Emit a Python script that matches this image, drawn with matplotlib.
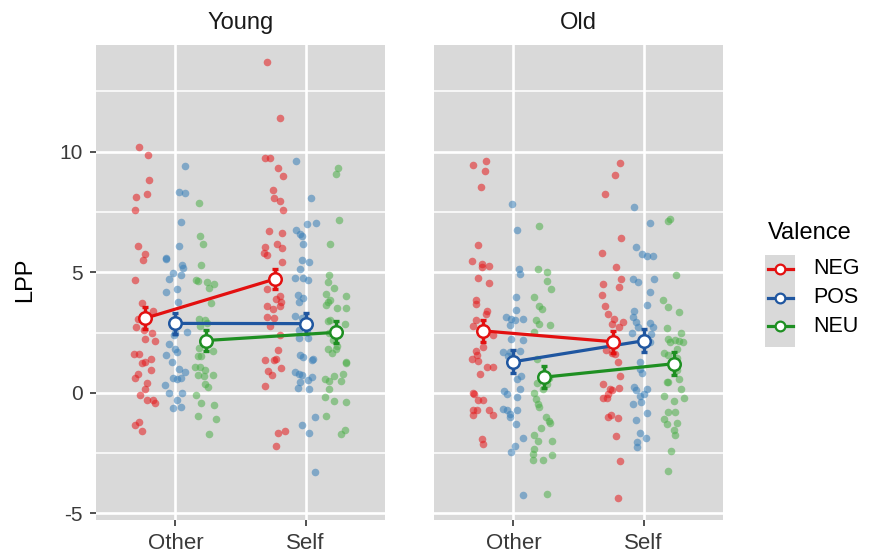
import numpy as np
import matplotlib.pyplot as plt
from matplotlib.lines import Line2D
from matplotlib.patches import Rectangle

plt.rcParams['font.family'] = ['Liberation Sans', 'DejaVu Sans']

ages = ['Young', 'Old']
conditions = ['Other', 'Self']
valences = ['NEG', 'POS', 'NEU']
y_ticks = [-5, 0, 5, 10]
y_tick_labels = ['-5', '0', '5', '10']
y_minor = [-2.5, 2.5, 7.5, 12.5]

# single subject points: (x on category axis incl. dodge + jitter, LPP)
young_other_neg = [(0.72, 10.19), (0.79, 9.88), (0.80, 8.81), (0.70, 8.12), (0.78, 8.26), (0.69, 7.56),
                   (0.71, 6.10), (0.77, 5.75), (0.75, 5.52), (0.69, 4.67), (0.74, 3.73), (0.71, 3.07),
                   (0.83, 3.38), (0.70, 2.71), (0.76, 2.60), (0.82, 2.49), (0.77, 2.24), (0.84, 2.15),
                   (0.68, 1.60), (0.72, 1.63), (0.81, 1.41), (0.74, 1.24), (0.77, 1.27), (0.81, 0.94),
                   (0.71, 0.80), (0.69, 0.62), (0.78, 0.39), (0.77, 0.14), (0.73, -0.07), (0.78, -0.30),
                   (0.83, -0.30), (0.84, -0.44), (0.72, -1.19), (0.69, -1.35), (0.74, -1.57)]
young_other_pos = [(1.07, 9.39), (1.03, 8.34), (1.07, 8.29), (1.04, 7.10), (1.03, 6.08), (0.93, 5.61),
                   (0.93, 5.55), (1.05, 5.30), (1.06, 5.17), (1.04, 4.89), (0.98, 4.97), (0.95, 4.72),
                   (1.01, 4.31), (0.93, 4.20), (1.02, 3.78), (1.09, 2.51), (0.99, 2.38), (1.00, 2.49),
                   (0.95, 2.02), (1.00, 1.80), (1.01, 1.69), (0.93, 1.55), (0.97, 1.27), (1.03, 0.97),
                   (1.07, 0.86), (0.98, 0.62), (1.04, 0.62), (1.01, 0.58), (0.92, 0.33), (0.95, 0.00),
                   (1.05, 0.00), (1.01, -0.28), (1.04, -0.58), (0.98, -0.64)]
young_other_neu = [(1.18, 7.85), (1.19, 6.49), (1.21, 6.16), (1.20, 5.28), (1.16, 4.67), (1.17, 4.63),
                   (1.24, 4.59), (1.30, 4.53), (1.26, 4.36), (1.27, 3.73), (1.18, 3.07), (1.23, 3.01),
                   (1.24, 2.90), (1.19, 2.76), (1.18, 1.86), (1.29, 1.73), (1.17, 1.52), (1.20, 1.52),
                   (1.15, 1.08), (1.19, 1.08), (1.23, 0.94), (1.29, 0.76), (1.17, 0.76), (1.22, 0.69),
                   (1.23, 0.36), (1.25, 0.25), (1.16, -0.07), (1.20, -0.44), (1.30, -0.52), (1.17, -0.94),
                   (1.31, -1.08), (1.26, -1.69)]
young_self_neg = [(1.70, 13.73), (1.80, 11.41), (1.69, 9.72), (1.73, 9.75), (1.79, 9.31), (1.83, 8.98),
                  (1.75, 8.40), (1.76, 8.07), (1.80, 7.96), (1.83, 7.57), (1.72, 6.69), (1.82, 6.63),
                  (1.69, 6.05), (1.78, 6.19), (1.82, 6.02), (1.68, 5.80), (1.70, 5.72), (1.82, 5.44),
                  (1.70, 4.31), (1.80, 4.03), (1.77, 3.90), (1.81, 3.78), (1.80, 3.62), (1.70, 3.59),
                  (1.75, 3.48), (1.70, 3.15), (1.76, 3.09), (1.73, 2.79), (1.80, 2.38), (1.79, 1.77),
                  (1.69, 1.38), (1.76, 1.35), (1.77, 1.41), (1.71, 0.91), (1.74, 0.72), (1.81, 1.02),
                  (1.69, 0.30), (1.79, -1.66), (1.84, -1.60), (1.77, -2.21)]
young_self_pos = [(1.93, 9.61), (2.04, 8.07), (2.01, 7.02), (2.08, 7.04), (1.93, 6.74), (1.96, 6.57),
                  (1.97, 6.52), (1.98, 6.16), (1.97, 5.50), (2.03, 5.44), (1.96, 5.14), (1.92, 4.75),
                  (1.98, 4.75), (2.02, 4.67), (1.94, 4.06), (1.98, 3.92), (1.95, 3.78), (1.92, 3.18),
                  (1.97, 3.09), (1.95, 2.62), (2.01, 2.51), (1.95, 2.29), (2.02, 2.29), (1.96, 1.55),
                  (1.98, 1.49), (2.05, 1.35), (2.06, 1.41), (1.92, 0.86), (1.95, 0.77), (1.97, 0.72),
                  (1.96, 0.47), (2.02, 0.55), (2.05, 0.64), (1.94, 0.22), (2.03, 0.14), (2.07, -0.99),
                  (1.97, -1.35), (2.03, -1.66), (2.07, -3.29)]
young_self_neu = [(2.25, 9.34), (2.23, 9.06), (2.26, 7.18), (2.19, 6.16), (2.18, 4.89), (2.17, 4.61),
                  (2.22, 4.36), (2.16, 4.09), (2.17, 3.78), (2.16, 3.65), (2.31, 4.01), (2.31, 3.51),
                  (2.19, 3.87), (2.24, 3.51), (2.17, 2.96), (2.19, 3.01), (2.30, 2.87), (2.18, 2.49),
                  (2.21, 2.21), (2.17, 1.80), (2.20, 1.66), (2.24, 1.93), (2.23, 1.80), (2.31, 1.24),
                  (2.31, 1.30), (2.15, 0.58), (2.18, 0.50), (2.22, 0.69), (2.29, 0.77), (2.27, 0.50),
                  (2.18, 0.14), (2.15, -0.19), (2.22, -0.33), (2.31, -0.39), (2.16, -0.97), (2.27, -1.69),
                  (2.30, -1.55)]
old_other_neg = [(0.69, 9.43), (0.79, 9.60), (0.78, 9.21), (0.75, 8.52), (0.73, 6.12), (0.68, 5.48),
                 (0.76, 5.35), (0.81, 5.26), (0.76, 5.21), (0.73, 4.77), (0.81, 4.54), (0.71, 3.83),
                 (0.71, 3.69), (0.80, 3.41), (0.79, 3.27), (0.71, 3.02), (0.69, 2.78), (0.84, 2.39),
                 (0.77, 1.89), (0.71, 1.75), (0.72, 1.59), (0.68, 1.40), (0.73, 1.34), (0.80, 1.09),
                 (0.84, 1.09), (0.74, 0.79), (0.69, 0.01), (0.70, -0.04), (0.73, -0.29), (0.77, -0.29),
                 (0.69, -0.70), (0.72, -0.73), (0.81, -0.70), (0.84, -0.90), (0.69, -0.93), (0.76, -1.92),
                 (0.77, -2.11)]
old_other_pos = [(0.99, 7.83), (1.03, 6.75), (1.04, 5.15), (1.05, 4.93), (1.02, 3.99), (1.02, 3.44),
                 (1.01, 3.00), (0.94, 3.14), (0.98, 3.08), (1.07, 3.05), (0.97, 2.83), (0.98, 2.25),
                 (1.07, 2.20), (0.92, 1.70), (0.97, 1.70), (1.05, 1.73), (0.96, 1.51), (1.03, 0.59),
                 (1.06, 0.70), (1.05, 0.18), (1.03, -0.18), (0.93, 0.07), (0.95, -0.04), (0.92, -0.65),
                 (0.95, -0.70), (0.97, -0.87), (0.97, -0.98), (1.03, -0.73), (1.02, -1.28), (1.07, -1.86),
                 (1.01, -2.20), (0.98, -2.47), (1.07, -4.24)]
old_other_neu = [(1.20, 6.92), (1.19, 5.15), (1.26, 4.99), (1.26, 4.63), (1.29, 4.30), (1.16, 3.99),
                 (1.20, 3.60), (1.22, 3.49), (1.17, 3.02), (1.20, 2.86), (1.28, 2.80), (1.16, 2.53),
                 (1.18, 1.40), (1.27, 0.62), (1.26, 0.35), (1.23, 0.15), (1.18, 0.40), (1.16, 0.01),
                 (1.17, -0.26), (1.19, -0.48), (1.20, -0.59), (1.25, -0.98), (1.27, -1.15), (1.28, -1.23),
                 (1.21, -1.45), (1.16, -1.75), (1.19, -1.98), (1.30, -2.00), (1.16, -2.33), (1.15, -2.53),
                 (1.15, -2.78), (1.23, -2.80), (1.30, -2.58), (1.26, -4.21)]
old_self_neg = [(1.82, 9.54), (1.78, 9.02), (1.70, 8.25), (1.83, 6.40), (1.68, 5.79), (1.79, 5.23),
                (1.83, 4.74), (1.69, 4.52), (1.81, 4.38), (1.68, 4.07), (1.70, 3.60), (1.73, 3.27),
                (1.77, 3.08), (1.76, 2.86), (1.84, 2.94), (1.81, 2.75), (1.71, 1.78), (1.76, 1.67),
                (1.78, 1.62), (1.80, 1.28), (1.82, 0.68), (1.69, 0.37), (1.74, 0.15), (1.76, 0.12),
                (1.81, 0.21), (1.73, -0.04), (1.69, -0.23), (1.72, -0.21), (1.75, -0.90), (1.73, -0.98),
                (1.80, -1.06), (1.79, -1.78), (1.82, -2.83), (1.80, -4.36)]
old_self_pos = [(1.93, 7.69), (2.05, 7.06), (1.94, 6.04), (1.99, 5.76), (2.03, 5.68), (2.07, 5.68),
                (1.92, 4.74), (1.96, 4.60), (2.08, 4.71), (2.05, 4.19), (2.03, 3.63), (1.93, 3.41),
                (1.92, 3.16), (1.94, 2.94), (1.96, 2.75), (2.05, 2.89), (2.07, 2.75), (1.91, 2.47),
                (2.06, 2.44), (2.05, 2.09), (1.97, 1.28), (1.97, 1.01), (1.99, 0.84), (1.93, 0.26),
                (1.94, 0.12), (2.03, 0.15), (2.00, -0.04), (1.97, -0.15), (1.92, -0.46), (1.98, -0.37),
                (2.03, -0.84), (1.94, -1.12), (1.97, -1.67), (2.02, -1.89), (1.95, -2.03), (1.95, -2.25)]
old_self_neu = [(2.19, 7.14), (2.20, 7.22), (2.25, 4.90), (2.15, 3.83), (2.19, 3.58), (2.27, 3.36),
                (2.18, 2.67), (2.29, 2.47), (2.19, 2.25), (2.24, 2.20), (2.27, 2.14), (2.30, 2.09),
                (2.20, 2.09), (2.26, 1.81), (2.16, 1.64), (2.19, 1.56), (2.26, 1.45), (2.26, 0.95),
                (2.27, 0.59), (2.19, 0.46), (2.29, 0.15), (2.18, 0.43), (2.16, -0.12), (2.23, -0.32),
                (2.31, -0.21), (2.24, -0.81), (2.19, -0.81), (2.16, -1.09), (2.18, -1.28), (2.26, -1.26),
                (2.23, -1.53), (2.24, -1.75), (2.21, -2.39), (2.19, -3.22)]

# condition means and standard errors, rows NEG/POS/NEU, columns Other/Self
mean_young = [[3.09, 4.72], [2.88, 2.87], [2.17, 2.51]]
se_young = [[0.45, 0.42], [0.43, 0.45], [0.45, 0.45]]
mean_old = [[2.57, 2.12], [1.29, 2.16], [0.65, 1.21]]
se_old = [[0.46, 0.45], [0.48, 0.47], [0.45, 0.47]]

points = {
    'Young': [young_other_neg + young_self_neg, young_other_pos + young_self_pos, young_other_neu + young_self_neu],
    'Old': [old_other_neg + old_self_neg, old_other_pos + old_self_pos, old_other_neu + old_self_neu],
}
means = {'Young': mean_young, 'Old': mean_old}
ses = {'Young': se_young, 'Old': se_old}

point_colors = ['#E41A1C', '#377EB8', '#4DAF4A']
line_colors = ['#E31010', '#1F56A0', '#1E8F22']
dodge = [-0.235, 0.0, 0.235]

fig = plt.figure(figsize=(8.7, 5.58), dpi=100)
lefts = [96 / 870, 434 / 870]

for i, age in enumerate(ages):
    ax = fig.add_axes([lefts[i], 38 / 558, 289 / 870, 475 / 558])
    ax.set_facecolor('#D9D9D9')
    for s in ax.spines.values():
        s.set_visible(False)
    ax.set_xlim(0.39, 2.61)
    ax.set_ylim(-5.27, 14.42)
    ax.set_xticks([1, 2])
    ax.set_xticklabels(conditions)
    ax.set_yticks(y_ticks)
    ax.set_yticklabels(y_tick_labels)
    ax.set_yticks(y_minor, minor=True)
    ax.grid(which='major', color='white', lw=1.9)
    ax.grid(which='minor', axis='y', color='white', lw=1.1)
    ax.set_axisbelow(True)
    ax.tick_params(which='minor', length=0)
    ax.tick_params(which='major', labelcolor='#3A3A3A', color='#333333',
                   length=4.5, width=1.2, pad=5)
    ax.tick_params(axis='y', labelsize=15)
    ax.tick_params(axis='x', labelsize=16)
    if i > 0:
        ax.tick_params(axis='y', left=False, labelleft=False)

    for k in range(3):
        pts = np.array(points[age][k])
        ax.scatter(pts[:, 0], pts[:, 1], s=30, color=point_colors[k], alpha=0.55,
                   linewidths=0, zorder=2)

    for k in range(3):
        xs = np.array([1, 2]) + dodge[k]
        m = means[age][k]
        ax.errorbar(xs, m, yerr=ses[age][k], fmt='none', ecolor=line_colors[k],
                    elinewidth=2.4, capsize=2.5, capthick=2.4, zorder=3)
        ax.plot(xs, m, '-', color=line_colors[k], lw=2.3, zorder=3)
        ax.plot(xs, m, 'o', ms=9, mfc='white', mec=line_colors[k], mew=1.8, zorder=4)

    ax.text(0.5, 1 + 16 / 475, age, transform=ax.transAxes, ha='center',
            va='baseline', fontsize=17, color='#1A1A1A')

fig.text(25 / 870, 1 - 280 / 558, 'LPP', rotation=90, fontsize=17, ha='center', va='center')

# legend
fig.text(768 / 870, 1 - 233 / 558, 'Valence', fontsize=17, ha='left', va='center')
fig.add_artist(Rectangle((765 / 870, 1 - 347 / 558), 30 / 870, 92 / 558,
                         transform=fig.transFigure, color='#D9D9D9', lw=0))
for k, name in enumerate(valences):
    yk = 1 - (269 + 28.5 * k) / 558
    fig.add_artist(Line2D([768 / 870, 793 / 870], [yk, yk], transform=fig.transFigure,
                          color=line_colors[k], lw=2.3))
    fig.add_artist(Line2D([780.5 / 870], [yk], transform=fig.transFigure, marker='o', ms=7,
                          mfc='white', mec=line_colors[k], mew=1.6))
    fig.text(813 / 870, yk, name, fontsize=15.5, ha='left', va='center')

fig.savefig('out.png', dpi=100)
